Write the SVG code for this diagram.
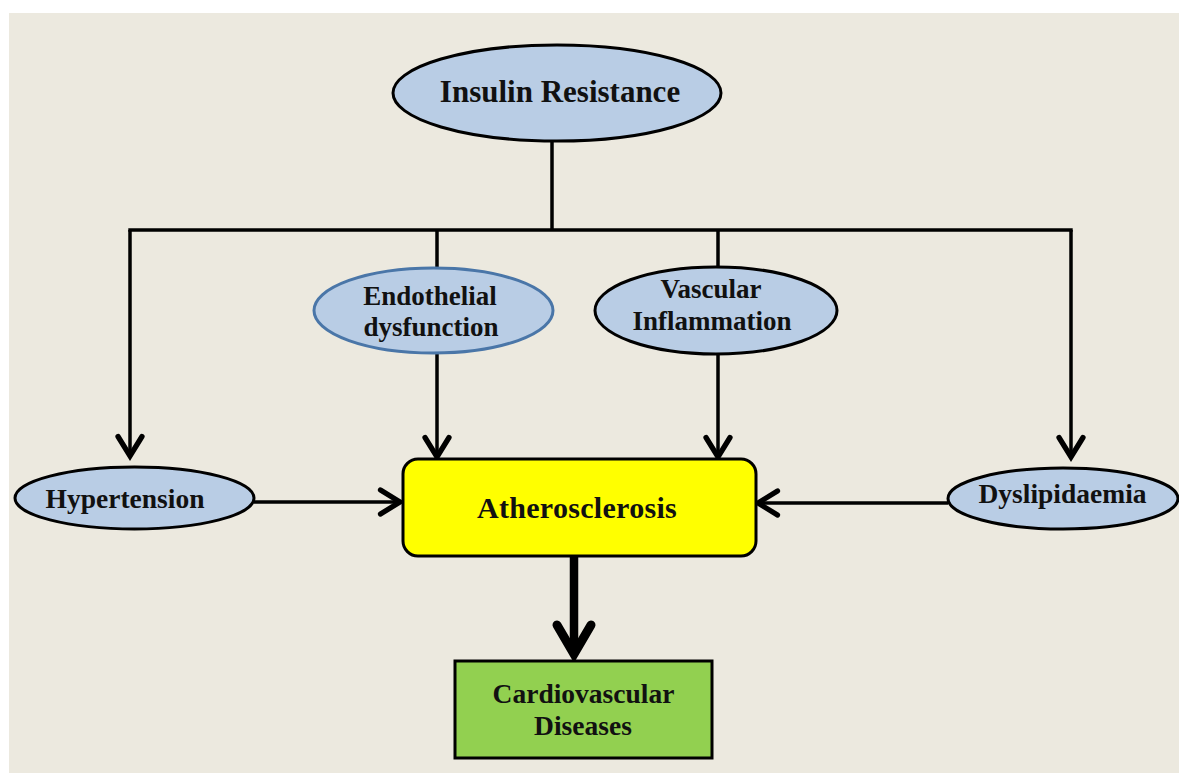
<svg xmlns="http://www.w3.org/2000/svg" width="1179" height="773" viewBox="0 0 1179 773">
<style>
.bg{fill:#ECE9DF}
.oval{fill:#B9CDE5;stroke:#000;stroke-width:3}
.oval.blue{stroke:#4A76A8}
.t{font-family:"Liberation Serif","Times New Roman",serif;font-weight:bold;fill:#111;text-anchor:middle}
.ln{fill:none;stroke:#000;stroke-width:3.5}
.ah{fill:none;stroke:#000;stroke-width:3.5;stroke-linecap:round;stroke-linejoin:miter}
</style>
<defs>
<marker id="arr" markerUnits="userSpaceOnUse" markerWidth="30" markerHeight="30" viewBox="-16 -10 20 20" refX="0" refY="0" orient="auto">
<path d="M-13,-8 L0,0 L-13,8" class="ah"/>
</marker>
</defs>
<rect x="0" y="0" width="1179" height="773" fill="#FFFFFF"/>
<rect class="bg" x="9" y="13" width="1170" height="760"/>
<g id="connectors">
<line class="ln" x1="552" y1="141" x2="552" y2="230"/>
<line class="ln" x1="128.3" y1="230" x2="1072.7" y2="230"/>
<polyline class="ln" points="130,230 130,456" marker-end="url(#arr)"/>
<polyline class="ln" points="1071,230 1071,457" marker-end="url(#arr)"/>
<line class="ln" x1="437" y1="230" x2="437" y2="268"/>
<line class="ln" x1="718" y1="230" x2="718" y2="267"/>
<polyline class="ln" points="437,353 437,457" marker-end="url(#arr)"/>
<polyline class="ln" points="718,354 718,457" marker-end="url(#arr)"/>
<polyline class="ln" points="254,502 400,502" marker-end="url(#arr)"/>
<polyline class="ln" points="948,503 758,503" marker-end="url(#arr)"/>
<line x1="574" y1="556" x2="574" y2="650" stroke="#000" stroke-width="8.5"/>
<path d="M557,625 L574,654 L591,625" fill="none" stroke="#000" stroke-width="9" stroke-linecap="round" stroke-linejoin="miter"/>
<path d="M566,645 L574,659 L582,645 Z" fill="#000"/>
</g>
<g id="insulin-resistance">
<ellipse class="oval" cx="557" cy="93" rx="164" ry="48"/>
<text class="t" x="560" y="102" font-size="31">Insulin Resistance</text>
</g>
<g id="endothelial-dysfunction">
<ellipse class="oval blue" cx="433.5" cy="310.5" rx="119.5" ry="42.5"/>
<text class="t" x="430" y="305" font-size="27">Endothelial</text>
<text class="t" x="431" y="336" font-size="27">dysfunction</text>
</g>
<g id="vascular-inflammation">
<ellipse class="oval" cx="716" cy="310.5" rx="121" ry="43.5"/>
<text class="t" x="711" y="298" font-size="27">Vascular</text>
<text class="t" x="712" y="330" font-size="27">Inflammation</text>
</g>
<g id="hypertension">
<ellipse class="oval" cx="134.5" cy="498" rx="119.5" ry="31"/>
<text class="t" x="125" y="508" font-size="27.5">Hypertension</text>
</g>
<g id="dyslipidaemia">
<ellipse class="oval" cx="1063" cy="498.5" rx="115" ry="30.5"/>
<text class="t" x="1062.5" y="503" font-size="27.5">Dyslipidaemia</text>
</g>
<g id="atherosclerosis">
<rect x="403" y="459" width="353" height="97" rx="15" fill="#FFFF00" stroke="#000" stroke-width="3"/>
<text class="t" x="577" y="518" font-size="30" letter-spacing="0.3">Atherosclerosis</text>
</g>
<g id="cardiovascular-diseases">
<rect x="455" y="661" width="257" height="97" fill="#92D050" stroke="#000" stroke-width="3"/>
<text class="t" x="583.5" y="703" font-size="27.5">Cardiovascular</text>
<text class="t" x="583" y="735" font-size="27.5">Diseases</text>
</g>
</svg>
